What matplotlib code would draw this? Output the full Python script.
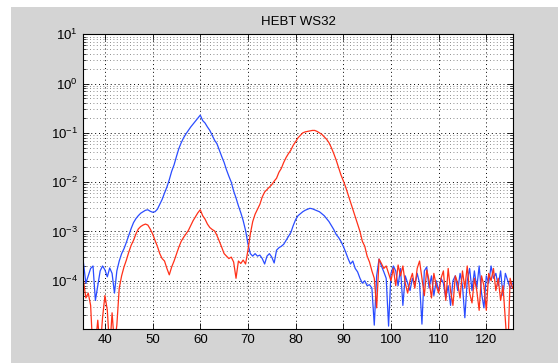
import numpy as np
import matplotlib.pyplot as plt
from matplotlib.patches import Rectangle
from matplotlib.ticker import FixedLocator, NullFormatter, LogFormatterSciNotation

plt.rcParams['font.family'] = ['Liberation Sans', 'DejaVu Sans']
plt.rcParams['mathtext.fontset'] = 'custom'
plt.rcParams['mathtext.rm'] = 'Liberation Sans'
plt.rcParams['mathtext.it'] = 'Liberation Sans'

fontsize = 9.5

# wire scanner position (0.5 step from 35.5 to 125.5)
pos_start = 35.5
pos_step = 0.5

# log10 of signal, blue trace
blue_log = [
    -3.64, -4.05, -3.90, -3.75, -3.70, -4.40, -4.10, -3.80, -3.70, -3.78,
    -3.92, -3.74, -3.85, -4.25, -3.80, -3.60, -3.45, -3.35, -3.22, -3.08,
    -2.94, -2.82, -2.74, -2.68, -2.63, -2.60, -2.57, -2.56, -2.59, -2.61,
    -2.60, -2.55, -2.45, -2.35, -2.22, -2.10, -1.95, -1.78, -1.65, -1.48,
    -1.32, -1.20, -1.10, -1.02, -0.95, -0.88, -0.82, -0.76, -0.70, -0.64,
    -0.75, -0.80, -0.88, -0.95, -1.05, -1.15, -1.22, -1.35, -1.48, -1.60,
    -1.75, -1.88, -2.00, -2.18, -2.32, -2.48, -2.62, -2.78, -2.98, -3.25,
    -3.45, -3.50, -3.45, -3.50, -3.48, -3.55, -3.66, -3.50, -3.45, -3.52,
    -3.64, -3.38, -3.33, -3.30, -3.26, -3.18, -3.10, -3.02, -2.88, -2.76,
    -2.68, -2.64, -2.60, -2.57, -2.55, -2.53, -2.54, -2.56, -2.58, -2.60,
    -2.64, -2.68, -2.74, -2.80, -2.88, -2.96, -3.06, -3.12, -3.20, -3.30,
    -3.42, -3.55, -3.66, -3.60, -3.75, -3.82, -3.95, -4.05, -4.00, -4.10,
    -4.08, -4.15, -4.90, -3.90, -3.56, -3.70, -3.82, -3.95, -4.92, -3.85,
    -3.70, -3.80, -4.10, -3.75, -4.50, -3.90, -4.05, -4.20, -3.95, -4.10,
    -3.85, -4.05, -4.88, -3.80, -3.72, -4.15, -3.90, -4.30, -4.00, -4.20,
    -3.95, -4.05, -4.35, -4.10, -4.50, -4.00, -3.90, -4.20, -3.85, -4.10,
    -4.75, -4.00, -3.75, -4.20, -3.80, -4.15, -3.70, -4.25, -4.55, -3.90,
    -4.05, -3.70, -3.95, -3.85, -4.10, -3.80, -4.30, -3.85, -4.00, -4.15,
    -4.05]

# log10 of signal, red trace
red_log = [
    -4.00, -4.35, -4.25, -4.50, -5.50, -5.30, -4.80, -5.40, -4.75, -4.30,
    -4.60, -5.40, -4.65, -5.30, -4.90, -4.15, -3.90, -3.72, -3.58, -3.42,
    -3.28, -3.18, -3.05, -2.95, -2.90, -2.87, -2.85, -2.87, -2.95, -3.05,
    -3.18, -3.30, -3.45, -3.55, -3.60, -3.75, -3.88, -3.72, -3.60, -3.46,
    -3.32, -3.20, -3.12, -3.05, -2.98, -2.88, -2.78, -2.70, -2.62, -2.56,
    -2.68, -2.75, -2.85, -2.92, -2.96, -2.99, -3.08, -3.20, -3.32, -3.45,
    -3.50, -3.55, -3.52, -3.62, -3.95, -3.60, -3.65, -3.58, -3.66, -3.38,
    -3.05, -2.80, -2.65, -2.55, -2.45, -2.30, -2.20, -2.15, -2.10, -2.05,
    -1.98, -1.92, -1.80, -1.72, -1.60, -1.50, -1.42, -1.35, -1.25, -1.18,
    -1.10, -1.05, -1.00, -0.98, -0.97, -0.96, -0.95, -0.95, -0.97, -1.00,
    -1.03, -1.08, -1.13, -1.20, -1.30, -1.42, -1.55, -1.70, -1.85, -1.97,
    -2.10, -2.25, -2.40, -2.55, -2.70, -2.85, -3.00, -3.20, -3.30, -3.50,
    -3.62, -3.80, -3.95, -4.55, -3.56, -3.65, -3.75, -3.70, -3.85, -4.00,
    -3.75, -4.10, -3.68, -3.90, -3.70, -4.05, -4.25, -4.00, -3.85, -4.15,
    -3.75, -3.60, -3.95, -4.30, -3.78, -4.00, -4.35, -3.85, -4.10, -4.25,
    -3.95, -3.80, -4.40, -3.75, -4.20, -4.50, -3.90, -4.05, -4.35, -3.80,
    -4.15, -3.70, -4.25, -4.45, -3.95, -4.20, -4.60, -3.90, -4.10, -4.60,
    -3.85, -4.00, -3.75, -4.20, -3.95, -4.40, -4.10, -4.80, -5.50, -3.95,
    -4.15]

x_ticks = [40, 50, 60, 70, 80, 90, 100, 110, 120]
y_ticks = [1e-4, 1e-3, 1e-2, 1e-1, 1e0, 1e1]

pos = pos_start + pos_step*np.arange(len(blue_log))
blue = 10.**np.array(blue_log)
red = 10.**np.array(red_log)

fig = plt.figure(figsize=(5.58, 3.63), dpi=100)
fig.patch.set_facecolor('white')
fig.patches.append(Rectangle((11/558., 0), 1., 356/363., transform=fig.transFigure,
                             facecolor='#d4d4d4', edgecolor='none', zorder=-10))

ax = fig.add_axes([83/558., 1-329/363., 430/558., 294.7/363.])
ax.set_facecolor('white')
ax.plot(pos, blue, color='#2a4cff', lw=0.9)
ax.plot(pos, red, color='#ff3018', lw=0.9)

ax.set_yscale('log')
ax.set_xlim(35.4, 125.6)
ax.set_ylim(1.05e-5, 10)
ax.set_xticks(x_ticks)
ax.yaxis.set_major_locator(FixedLocator(y_ticks))
ax.yaxis.set_major_formatter(LogFormatterSciNotation())
minor = [m*d for d in [1e-5, 1e-4, 1e-3, 1e-2, 1e-1, 1e0] for m in range(2, 10)]
ax.yaxis.set_minor_locator(FixedLocator(minor))
ax.yaxis.set_minor_formatter(NullFormatter())

ax.grid(True, which='major', color='black', linestyle=(0, (1, 3)), lw=0.7)
ax.grid(True, which='minor', axis='y', color='#666666', linestyle=(0, (1, 3)), lw=0.6)

ax.tick_params(which='both', direction='in', top=True, right=True, labelsize=fontsize)
ax.tick_params(which='major', length=4, width=0.6)
ax.tick_params(which='minor', length=2, width=0.5)
for s in ax.spines.values():
    s.set_linewidth(0.8)

ax.set_title('HEBT WS32', fontsize=fontsize, pad=7)

fig.savefig('out.png', dpi=100)
